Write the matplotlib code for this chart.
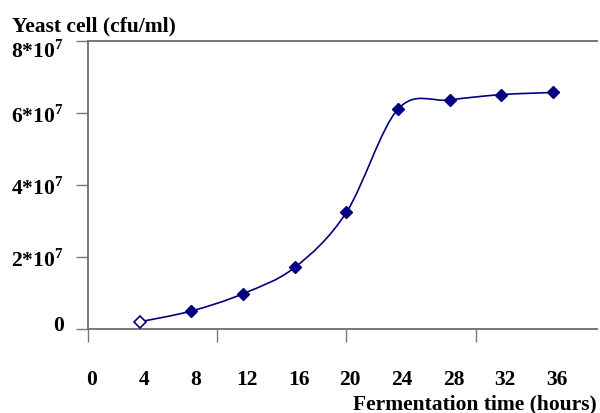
import matplotlib
matplotlib.use("Agg")
from matplotlib import pyplot as plt
from matplotlib.path import Path
from matplotlib.patches import PathPatch
from matplotlib.transforms import ScaledTranslation

# data
hours = [4, 8, 12, 16, 20, 24, 28, 32, 36]
cells = [0.2e7, 0.5e7, 0.98e7, 1.71e7, 3.24e7, 6.11e7, 6.36e7, 6.51e7, 6.57e7]
ytick_vals = [0, 2e7, 4e7, 6e7, 8e7]
ytick_text = ['0', r'2*10$^\mathbf{7}$', r'4*10$^\mathbf{7}$', r'6*10$^\mathbf{7}$', r'8*10$^\mathbf{7}$']
hour_labels = [0, 4, 8, 12, 16, 20, 24, 28, 32, 36]

navy = '#000080'
plt.rcParams['font.family'] = ['Liberation Serif', 'DejaVu Serif']
plt.rcParams['mathtext.fontset'] = 'custom'
plt.rcParams['mathtext.bf'] = 'Liberation Serif:bold'
plt.rcParams['mathtext.rm'] = 'Liberation Serif'

fig = plt.figure(figsize=(6, 4.14), dpi=100)
ax = fig.add_axes([0.1467, 0.2029, 0.995 - 0.1467, 0.8986 - 0.2029])


def smooth_path(xs, ys):
    "Catmull-Rom style bezier through the points (like a spreadsheet smoothed line)"
    pts = list(zip(xs, ys))
    verts = [pts[0]]
    codes = [Path.MOVETO]
    n = len(pts)
    for i in range(n - 1):
        p0 = pts[i - 1] if i > 0 else pts[i]
        p1 = pts[i]
        p2 = pts[i + 1]
        p3 = pts[i + 2] if i + 2 < n else pts[i + 1]
        c1 = (p1[0] + (p2[0] - p0[0]) / 6, p1[1] + (p2[1] - p0[1]) / 6)
        c2 = (p2[0] - (p3[0] - p1[0]) / 6, p2[1] - (p3[1] - p1[1]) / 6)
        verts += [c1, c2, p2]
        codes += [Path.CURVE4] * 3
    return Path(verts, codes)


ax.add_patch(PathPatch(smooth_path(hours, cells), facecolor='none', edgecolor=navy, lw=1.2))
ax.plot(hours[1:], cells[1:], 'D', color=navy, markersize=6.5, zorder=3)
ax.plot(hours[:1], cells[:1], 'D', markerfacecolor='white', markeredgecolor=navy,
        markeredgewidth=1.2, markersize=6, zorder=3)

ax.set_xlim(0, 39.4)
ax.set_ylim(0, 8e7)

ax.spines['right'].set_visible(False)
for s in ['left', 'bottom', 'top']:
    ax.spines[s].set_color('#777777')
    ax.spines[s].set_linewidth(1.4)

ax.set_yticks(ytick_vals)
ax.set_yticklabels(ytick_text, fontsize=15.5, fontweight='bold')
ax.tick_params(axis='y', direction='out', length=8.5, width=1, color='#777777', pad=9)

# the bottom and top labels sit a little off their ticks in the original
labels = ax.get_yticklabels()
labels[0].set_transform(labels[0].get_transform() + ScaledTranslation(0, 5 / 72, fig.dpi_scale_trans))
labels[-1].set_transform(labels[-1].get_transform() + ScaledTranslation(0, -5 / 72, fig.dpi_scale_trans))

# axis ticks every 10 h, hour labels printed separately underneath
ax.set_xticks([0, 10, 20, 30])
ax.set_xticklabels([])
ax.tick_params(axis='x', direction='out', length=9, width=1, color='#777777')
for h in hour_labels:
    ax.text(h + 0.3, -0.172, str(h), transform=ax.get_xaxis_transform(),
            ha='center', va='center', fontsize=15.5, fontweight='bold')

fig.text(0.02, 0.925, 'Yeast cell (cfu/ml)', fontsize=15.5, fontweight='bold', ha='left', va='baseline')
fig.text(0.995, 0.011, 'Fermentation time (hours)', fontsize=15.5, fontweight='bold', ha='right', va='baseline')

fig.savefig('out.png', dpi=100)
